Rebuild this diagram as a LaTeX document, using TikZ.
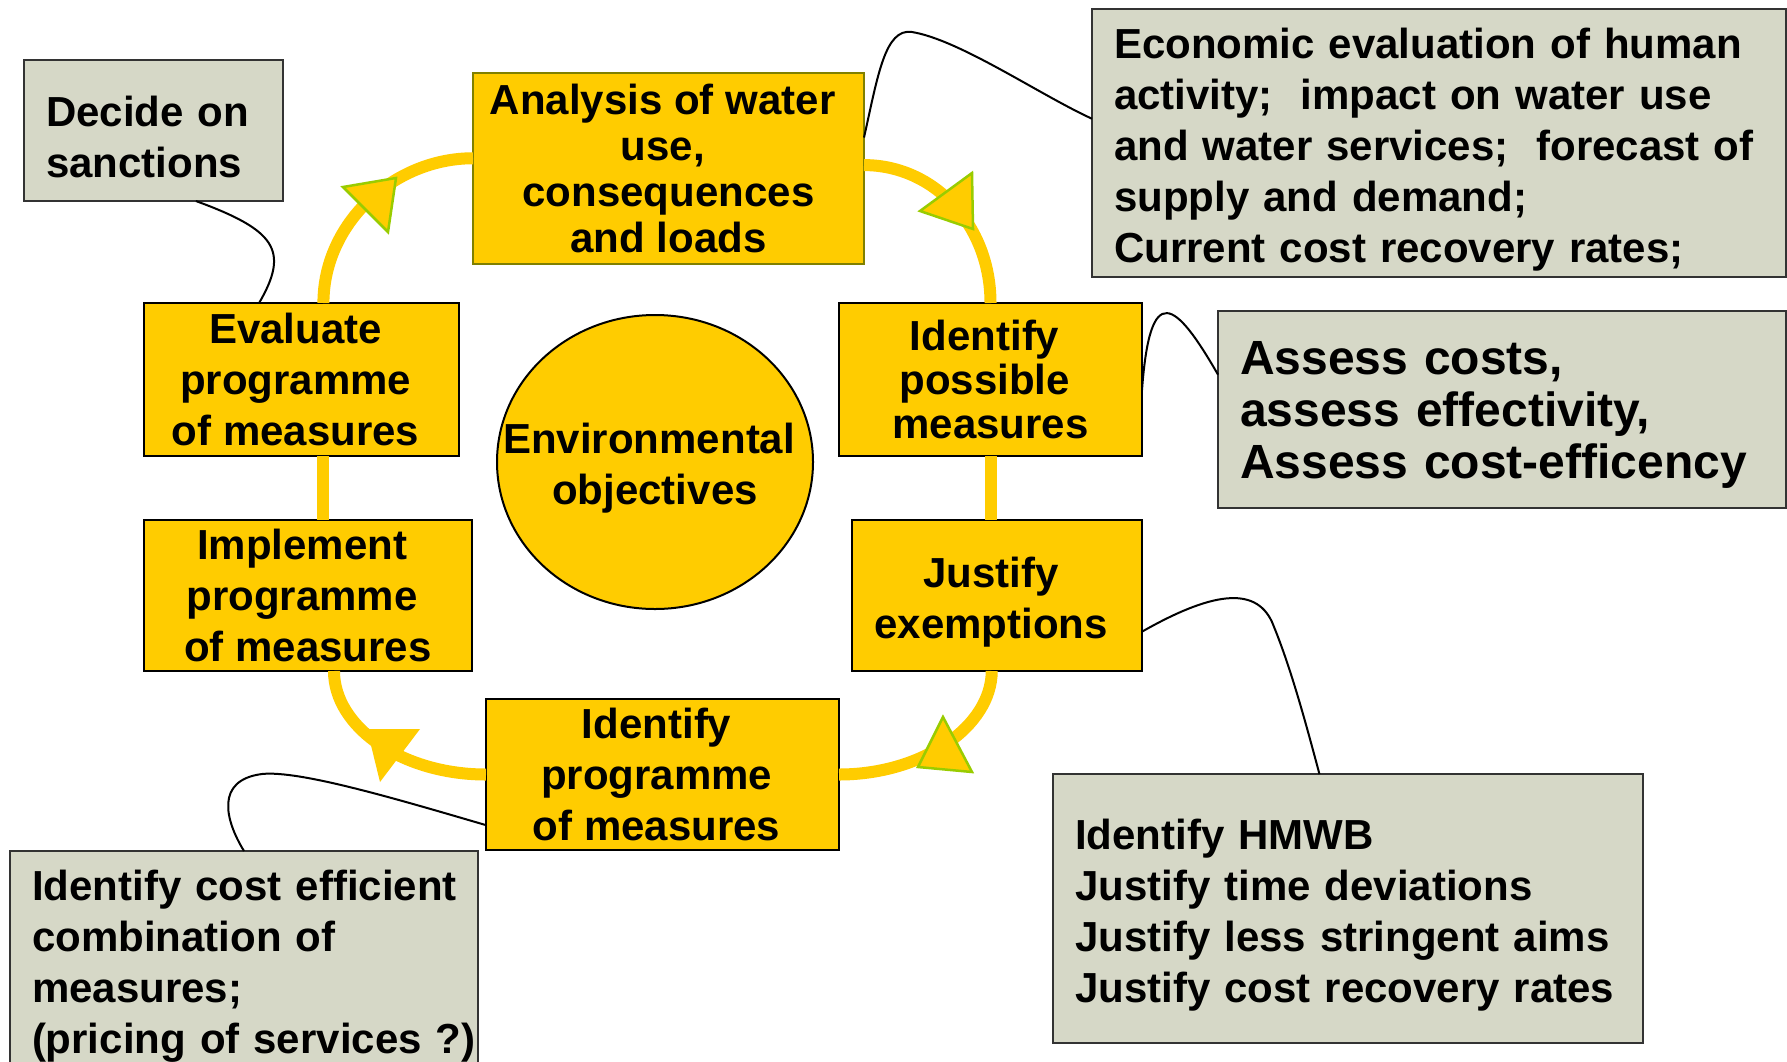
\documentclass[tikz,border=0pt]{standalone}
\usepackage{fontspec}
\setmainfont{Liberation Sans}
\usetikzlibrary{shapes.geometric}
\definecolor{ringyellow}{HTML}{FFCC00}
\definecolor{headgreen}{HTML}{99CC00}
\definecolor{notegrey}{HTML}{D6D8C7}
\definecolor{anaborder}{HTML}{808000}
\newcommand{\trail}{\rule{11.7pt}{0pt}}
\newcommand{\lowstrut}{\rule{0pt}{43pt}}

\begin{document}
\begin{tikzpicture}[x=1pt, y=-1pt,
  stepbox/.style={draw=black, fill=ringyellow, line width=2.5pt, inner sep=0pt, outer sep=0pt,
    align=center, font=\bfseries\fontsize{42}{51}\selectfont},
  notebox/.style={draw=black!80, fill=notegrey, line width=2.5pt, inner xsep=22pt, inner ysep=0pt,
    outer sep=0pt, align=left, font=\bfseries\fontsize{42}{51}\selectfont},
  lowtext/.style={execute at begin node=\lowstrut},
  ring/.style={ringyellow, line width=12pt},
  head/.style={fill=ringyellow, draw=headgreen, line width=2.5pt},
  link/.style={black, line width=2pt}]
  \useasboundingbox (0,0) rectangle (1787,1061);
  \fill[white] (0,0) rectangle (1787,1061);
  \clip (0,0) rectangle (1787,1061);
  \node[notebox, lowtext, text width=215pt, minimum height=141pt] (dec) at (153.5,130.5) {Decide on\\sanctions};
  \node[stepbox, draw=anaborder, font=\bfseries\fontsize{42}{46}\selectfont,
    minimum width=391pt, minimum height=191pt] (ana) at (668.5,168.5) {Analysis of water\trail\\use,\trail\\consequences\\and loads};
  \node[notebox, lowtext, text width=650pt, minimum height=268pt] (eco) at (1439,143)
    {Economic evaluation of human\\activity;~ impact on water use\\and water services;~ forecast of\\supply and demand;\\Current cost recovery rates;};
  \node[stepbox, minimum width=315pt, minimum height=153pt] (eva) at (301.5,379.5) {Evaluate\trail\\programme\trail\\of measures\trail};
  \node[stepbox, font=\bfseries\fontsize{42}{44}\selectfont,
    minimum width=303pt, minimum height=153pt] (ide) at (990.5,379.5) {Identify\trail\\possible\trail\\measures};
  \node[notebox, lowtext, font=\bfseries\fontsize{48}{52}\selectfont, text width=524pt, minimum height=197pt] (ass) at (1502,409.5)
    {Assess costs,\\assess effectivity,\\\mbox{Assess cost-efficency}};
  \node[stepbox, ellipse, line width=2pt, inner xsep=-40pt, minimum width=316pt, minimum height=294pt] (env) at (655,462)
    {\lowstrut Environmental\trail\\objectives};
  \node[stepbox, minimum width=328pt, minimum height=151pt] (imp) at (308,595.5) {Implement\trail\\programme\trail\\of measures};
  \node[stepbox, minimum width=290pt, minimum height=151pt] (jus) at (997,595.5) {\lowstrut Justify\trail\\exemptions\trail};
  \node[stepbox, minimum width=353pt, minimum height=151pt] (prog) at (662.5,774.5) {Identify\trail\\programme\trail\\of measures\trail};
  \node[notebox, lowtext, text width=424pt, minimum height=217pt] (comb) at (244,959.5)
    {\mbox{Identify cost efficient}\\combination of\\measures;\\\mbox{(pricing of services ?)}};
  \node[notebox, lowtext, text width=546pt, minimum height=269pt] (hmwb) at (1348,908.5)
    {Identify HMWB\\\mbox{Justify time deviations}\\\mbox{Justify less stringent aims}\\\mbox{Justify cost recovery rates}};
  \coordinate (evb) at (eva.-74.3);
  \draw[ring] (eva.74.3) .. controls +(0,-80) and +(-79,0) .. (ana.177);
  \draw[ring] (ana.1.9) .. controls +(70,0) and +(0,-78) .. (ide.north);
  \draw[ring] (ide.south) -- (ide.south |- jus.north);
  \draw[ring] (jus.-94) .. controls +(0,55) and +(84,0) .. (prog.east);
  \draw[ring] (imp.-71.7) .. controls +(0,56) and +(-84,0) .. (prog.west);
  \draw[ring] (evb) -- (evb |- imp.north);
  \filldraw[head] (343,187) -- (396,178) -- (388,232) -- cycle;
  \filldraw[head] (920,211) -- (972,173) -- (973,229) -- cycle;
  \filldraw[head] (943,717) -- (918,767) -- (972,772) -- cycle;
  \fill[ringyellow] (367,729) -- (420,729) -- (380,782) -- cycle;
  \draw[link] (dec.-59.5) .. controls (275,230) and (290,250) .. (eva.119.6);
  \draw[link] (ana.9.15) .. controls (878,75) and (885,28) .. (912,32) .. controls (960,40) and (1040,95) .. (eco.176.7);
  \draw[link] (ide.-4) .. controls (1150,280) and (1175,300) .. (ass.173.9);
  \draw[link] (jus.-14.4) .. controls (1210,593) and (1255,585) .. (1272,622) .. controls (1290,665) and (1305,720) .. (hmwb.102.2);
  \draw[link] (prog.-164.7) .. controls (400,800) and (300,770) .. (262,774) .. controls (215,780) and (225,820) .. (comb.north);
\end{tikzpicture}
\end{document}
